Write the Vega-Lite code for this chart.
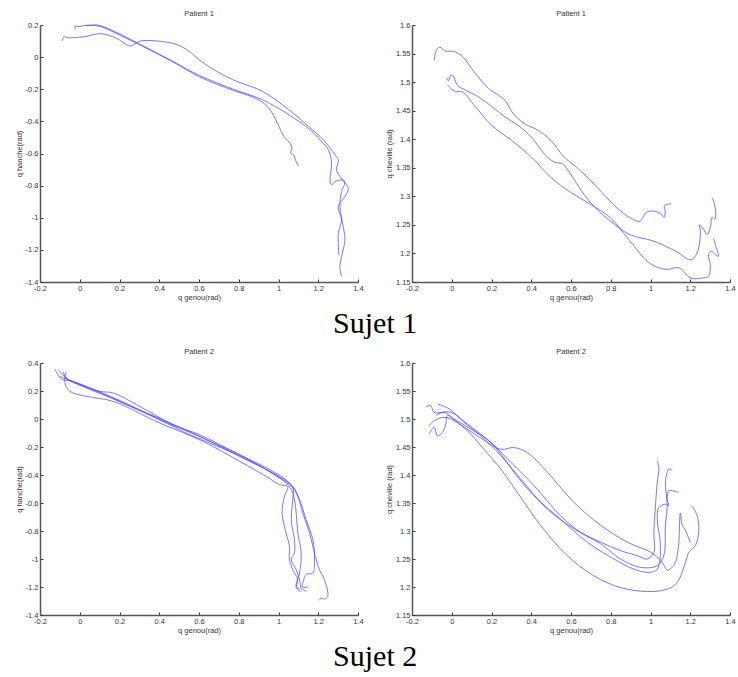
{
  "$schema": "https://vega.github.io/schema/vega-lite/v6.json",
  "padding": {"left": 15, "top": 9, "right": 0, "bottom": 0},
  "background": "white",
  "config": {
    "view": {"stroke": null},
    "font": "Liberation Sans",
    "axis": {
      "labelFont": "Liberation Sans", "labelFontSize": 7.5, "labelColor": "#333",
      "titleFont": "Liberation Sans", "titleFontSize": 7.5, "titleFontWeight": "normal", "titleColor": "#333",
      "domainColor": "#555", "domainWidth": 1.5, "tickColor": "#333", "tickSize": -3, "tickWidth": 1,
      "grid": false, "labelPadding": 5, "titlePadding": 2, "labelExpr": "datum.value + ''", "labelFlush": false
    },
    "title": {"fontSize": 7.5, "fontWeight": "normal", "color": "#333", "offset": 4, "font": "Liberation Sans"},
    "line": {"color": "#4a4aff", "strokeWidth": 0.75, "interpolate": "catmull-rom"}
  },
  "datasets": {
    "p1": [
      {"c":"a","i":0,"x":-0.020,"y":0.173},{"c":"a","i":1,"x":-0.025,"y":0.194},{"c":"a","i":2,"x":-0.008,"y":0.190},{"c":"a","i":3,"x":0.030,"y":0.198},{"c":"a","i":4,"x":0.105,"y":0.190},{"c":"a","i":5,"x":0.204,"y":0.135},{"c":"a","i":6,"x":0.321,"y":0.065},{"c":"a","i":7,"x":0.470,"y":-0.031},{"c":"a","i":8,"x":0.603,"y":-0.123},{"c":"a","i":9,"x":0.769,"y":-0.206},{"c":"a","i":10,"x":0.869,"y":-0.248},{"c":"a","i":11,"x":0.935,"y":-0.296},{"c":"a","i":12,"x":0.968,"y":-0.348},{"c":"a","i":13,"x":1.002,"y":-0.431},{"c":"a","i":14,"x":1.027,"y":-0.494},{"c":"a","i":15,"x":1.060,"y":-0.540},{"c":"a","i":16,"x":1.068,"y":-0.567},{"c":"a","i":17,"x":1.061,"y":-0.598},{"c":"a","i":18,"x":1.076,"y":-0.608},{"c":"a","i":19,"x":1.085,"y":-0.640},{"c":"a","i":20,"x":1.101,"y":-0.681},
      {"c":"b","i":0,"x":0.030,"y":0.194},{"c":"b","i":1,"x":0.088,"y":0.200},{"c":"b","i":2,"x":0.188,"y":0.152},{"c":"b","i":3,"x":0.304,"y":0.079},{"c":"b","i":4,"x":0.470,"y":-0.027},{"c":"b","i":5,"x":0.603,"y":-0.115},{"c":"b","i":6,"x":0.769,"y":-0.198},{"c":"b","i":7,"x":0.919,"y":-0.265},{"c":"b","i":8,"x":1.051,"y":-0.358},{"c":"b","i":9,"x":1.159,"y":-0.452},{"c":"b","i":10,"x":1.209,"y":-0.515},{"c":"b","i":11,"x":1.251,"y":-0.577},{"c":"b","i":12,"x":1.267,"y":-0.660},{"c":"b","i":13,"x":1.259,"y":-0.765},{"c":"b","i":14,"x":1.267,"y":-0.796},{"c":"b","i":15,"x":1.284,"y":-0.775},{"c":"b","i":16,"x":1.326,"y":-0.765},{"c":"b","i":17,"x":1.334,"y":-0.781},{"c":"b","i":18,"x":1.317,"y":-0.838},{"c":"b","i":19,"x":1.309,"y":-0.931},{"c":"b","i":20,"x":1.326,"y":-1.056},{"c":"b","i":21,"x":1.334,"y":-1.140},{"c":"b","i":22,"x":1.317,"y":-1.244},{"c":"b","i":23,"x":1.309,"y":-1.306},{"c":"b","i":24,"x":1.317,"y":-1.365},
      {"c":"c","i":0,"x":-0.090,"y":0.100},{"c":"c","i":1,"x":-0.078,"y":0.127},{"c":"c","i":2,"x":-0.061,"y":0.121},{"c":"c","i":3,"x":0.022,"y":0.127},{"c":"c","i":4,"x":0.105,"y":0.146},{"c":"c","i":5,"x":0.188,"y":0.115},{"c":"c","i":6,"x":0.254,"y":0.069},{"c":"c","i":7,"x":0.304,"y":0.100},{"c":"c","i":8,"x":0.470,"y":0.085},{"c":"c","i":9,"x":0.537,"y":0.048},{"c":"c","i":10,"x":0.620,"y":-0.035},{"c":"c","i":11,"x":0.769,"y":-0.140},{"c":"c","i":12,"x":0.919,"y":-0.213},{"c":"c","i":13,"x":1.051,"y":-0.327},{"c":"c","i":14,"x":1.151,"y":-0.431},{"c":"c","i":15,"x":1.226,"y":-0.515},{"c":"c","i":16,"x":1.284,"y":-0.608},{"c":"c","i":17,"x":1.301,"y":-0.640},{"c":"c","i":18,"x":1.292,"y":-0.702},{"c":"c","i":19,"x":1.309,"y":-0.744},{"c":"c","i":20,"x":1.351,"y":-0.817},{"c":"c","i":21,"x":1.334,"y":-0.869},{"c":"c","i":22,"x":1.301,"y":-0.931},{"c":"c","i":23,"x":1.317,"y":-1.015},{"c":"c","i":24,"x":1.301,"y":-1.098},{"c":"c","i":25,"x":1.304,"y":-1.233}
    ],
    "p2": [
      {"c":"a","i":0,"x":-0.088,"y":1.538},{"c":"a","i":1,"x":-0.076,"y":1.557},{"c":"a","i":2,"x":-0.060,"y":1.561},{"c":"a","i":3,"x":-0.030,"y":1.554},{"c":"a","i":4,"x":0.007,"y":1.554},{"c":"a","i":5,"x":0.053,"y":1.545},{"c":"a","i":6,"x":0.119,"y":1.515},{"c":"a","i":7,"x":0.185,"y":1.489},{"c":"a","i":8,"x":0.235,"y":1.477},{"c":"a","i":9,"x":0.268,"y":1.468},{"c":"a","i":10,"x":0.309,"y":1.445},{"c":"a","i":11,"x":0.367,"y":1.427},{"c":"a","i":12,"x":0.433,"y":1.416},{"c":"a","i":13,"x":0.499,"y":1.398},{"c":"a","i":14,"x":0.565,"y":1.369},{"c":"a","i":15,"x":0.648,"y":1.345},{"c":"a","i":16,"x":0.731,"y":1.316},{"c":"a","i":17,"x":0.830,"y":1.280},{"c":"a","i":18,"x":0.896,"y":1.263},{"c":"a","i":19,"x":0.945,"y":1.256},{"c":"a","i":20,"x":0.962,"y":1.263},{"c":"a","i":21,"x":0.979,"y":1.272},{"c":"a","i":22,"x":1.020,"y":1.274},{"c":"a","i":23,"x":1.053,"y":1.269},{"c":"a","i":24,"x":1.069,"y":1.263},{"c":"a","i":25,"x":1.074,"y":1.274},{"c":"a","i":26,"x":1.069,"y":1.283},{"c":"a","i":27,"x":1.086,"y":1.286},{"c":"a","i":28,"x":1.102,"y":1.287},
      {"c":"b","i":0,"x":-0.026,"y":1.508},{"c":"b","i":1,"x":-0.017,"y":1.502},{"c":"b","i":2,"x":-0.005,"y":1.512},{"c":"b","i":3,"x":0.007,"y":1.511},{"c":"b","i":4,"x":0.028,"y":1.495},{"c":"b","i":5,"x":0.069,"y":1.486},{"c":"b","i":6,"x":0.136,"y":1.474},{"c":"b","i":7,"x":0.202,"y":1.457},{"c":"b","i":8,"x":0.268,"y":1.439},{"c":"b","i":9,"x":0.334,"y":1.424},{"c":"b","i":10,"x":0.400,"y":1.404},{"c":"b","i":11,"x":0.466,"y":1.374},{"c":"b","i":12,"x":0.516,"y":1.360},{"c":"b","i":13,"x":0.557,"y":1.357},{"c":"b","i":14,"x":0.598,"y":1.339},{"c":"b","i":15,"x":0.664,"y":1.304},{"c":"b","i":16,"x":0.731,"y":1.277},{"c":"b","i":17,"x":0.797,"y":1.257},{"c":"b","i":18,"x":0.896,"y":1.233},{"c":"b","i":19,"x":1.012,"y":1.222},{"c":"b","i":20,"x":1.127,"y":1.204},{"c":"b","i":21,"x":1.202,"y":1.189},{"c":"b","i":22,"x":1.235,"y":1.201},{"c":"b","i":23,"x":1.251,"y":1.239},{"c":"b","i":24,"x":1.246,"y":1.250},{"c":"b","i":25,"x":1.268,"y":1.242},{"c":"b","i":26,"x":1.285,"y":1.233},{"c":"b","i":27,"x":1.301,"y":1.245},{"c":"b","i":28,"x":1.309,"y":1.263},{"c":"b","i":29,"x":1.322,"y":1.260},{"c":"b","i":30,"x":1.329,"y":1.269},{"c":"b","i":31,"x":1.317,"y":1.292},{"c":"b","i":32,"x":1.309,"y":1.298},
      {"c":"c","i":0,"x":-0.021,"y":1.495},{"c":"c","i":1,"x":-0.005,"y":1.489},{"c":"c","i":2,"x":0.020,"y":1.483},{"c":"c","i":3,"x":0.053,"y":1.483},{"c":"c","i":4,"x":0.119,"y":1.457},{"c":"c","i":5,"x":0.202,"y":1.424},{"c":"c","i":6,"x":0.301,"y":1.398},{"c":"c","i":7,"x":0.400,"y":1.369},{"c":"c","i":8,"x":0.499,"y":1.333},{"c":"c","i":9,"x":0.598,"y":1.307},{"c":"c","i":10,"x":0.698,"y":1.286},{"c":"c","i":11,"x":0.797,"y":1.263},{"c":"c","i":12,"x":0.896,"y":1.222},{"c":"c","i":13,"x":0.995,"y":1.183},{"c":"c","i":14,"x":1.078,"y":1.172},{"c":"c","i":15,"x":1.144,"y":1.175},{"c":"c","i":16,"x":1.202,"y":1.157},{"c":"c","i":17,"x":1.260,"y":1.157},{"c":"c","i":18,"x":1.292,"y":1.160},{"c":"c","i":19,"x":1.301,"y":1.180},{"c":"c","i":20,"x":1.292,"y":1.198},{"c":"c","i":21,"x":1.309,"y":1.204},{"c":"c","i":22,"x":1.326,"y":1.198},{"c":"c","i":23,"x":1.342,"y":1.195},{"c":"c","i":24,"x":1.326,"y":1.216},{"c":"c","i":25,"x":1.317,"y":1.227}
    ],
    "p3": [
      {"c":"a","i":0,"x":-0.067,"y":0.340},{"c":"a","i":1,"x":-0.075,"y":0.257},{"c":"a","i":2,"x":-0.050,"y":0.198},{"c":"a","i":3,"x":0.034,"y":0.162},{"c":"a","i":4,"x":0.168,"y":0.126},{"c":"a","i":5,"x":0.402,"y":-0.029},{"c":"a","i":6,"x":0.603,"y":-0.148},{"c":"a","i":7,"x":0.804,"y":-0.302},{"c":"a","i":8,"x":0.938,"y":-0.410},{"c":"a","i":9,"x":1.005,"y":-0.469},{"c":"a","i":10,"x":1.047,"y":-0.481},{"c":"a","i":11,"x":1.030,"y":-0.552},{"c":"a","i":12,"x":1.018,"y":-0.671},{"c":"a","i":13,"x":1.038,"y":-0.814},{"c":"a","i":14,"x":1.055,"y":-0.910},{"c":"a","i":15,"x":1.055,"y":-1.005},{"c":"a","i":16,"x":1.072,"y":-1.076},{"c":"a","i":17,"x":1.097,"y":-1.148},{"c":"a","i":18,"x":1.089,"y":-1.207},{"c":"a","i":19,"x":1.114,"y":-1.231},
      {"c":"b","i":0,"x":-0.126,"y":0.357},{"c":"b","i":1,"x":-0.092,"y":0.286},{"c":"b","i":2,"x":-0.034,"y":0.269},{"c":"b","i":3,"x":0.101,"y":0.198},{"c":"b","i":4,"x":0.168,"y":0.186},{"c":"b","i":5,"x":0.302,"y":0.090},{"c":"b","i":6,"x":0.469,"y":-0.040},{"c":"b","i":7,"x":0.603,"y":-0.112},{"c":"b","i":8,"x":0.804,"y":-0.255},{"c":"b","i":9,"x":0.972,"y":-0.374},{"c":"b","i":10,"x":1.055,"y":-0.457},{"c":"b","i":11,"x":1.097,"y":-0.552},{"c":"b","i":12,"x":1.122,"y":-0.671},{"c":"b","i":13,"x":1.156,"y":-0.814},{"c":"b","i":14,"x":1.181,"y":-0.957},{"c":"b","i":15,"x":1.206,"y":-1.076},{"c":"b","i":16,"x":1.231,"y":-1.148},{"c":"b","i":17,"x":1.248,"y":-1.267},{"c":"b","i":18,"x":1.231,"y":-1.286},{"c":"b","i":19,"x":1.214,"y":-1.279},{"c":"b","i":20,"x":1.206,"y":-1.295},
      {"c":"c","i":0,"x":-0.101,"y":0.305},{"c":"c","i":1,"x":-0.059,"y":0.281},{"c":"c","i":2,"x":0.067,"y":0.210},{"c":"c","i":3,"x":0.235,"y":0.102},{"c":"c","i":4,"x":0.436,"y":-0.017},{"c":"c","i":5,"x":0.637,"y":-0.148},{"c":"c","i":6,"x":0.838,"y":-0.279},{"c":"c","i":7,"x":1.005,"y":-0.421},{"c":"c","i":8,"x":1.072,"y":-0.493},{"c":"c","i":9,"x":1.072,"y":-0.576},{"c":"c","i":10,"x":1.064,"y":-0.719},{"c":"c","i":11,"x":1.080,"y":-0.862},{"c":"c","i":12,"x":1.080,"y":-0.957},{"c":"c","i":13,"x":1.064,"y":-1.005},{"c":"c","i":14,"x":1.089,"y":-1.076},{"c":"c","i":15,"x":1.106,"y":-1.148},{"c":"c","i":16,"x":1.114,"y":-1.207},{"c":"c","i":17,"x":1.139,"y":-1.231},
      {"c":"d","i":0,"x":-0.084,"y":0.340},{"c":"d","i":1,"x":-0.067,"y":0.293},{"c":"d","i":2,"x":0.034,"y":0.221},{"c":"d","i":3,"x":0.201,"y":0.126},{"c":"d","i":4,"x":0.402,"y":-0.005},{"c":"d","i":5,"x":0.603,"y":-0.124},{"c":"d","i":6,"x":0.804,"y":-0.267},{"c":"d","i":7,"x":0.988,"y":-0.398},{"c":"d","i":8,"x":1.072,"y":-0.481},{"c":"d","i":9,"x":1.106,"y":-0.576},{"c":"d","i":10,"x":1.139,"y":-0.719},{"c":"d","i":11,"x":1.173,"y":-0.862},{"c":"d","i":12,"x":1.181,"y":-1.005},{"c":"d","i":13,"x":1.173,"y":-1.100},{"c":"d","i":14,"x":1.139,"y":-1.110},{"c":"d","i":15,"x":1.125,"y":-1.160},{"c":"d","i":16,"x":1.120,"y":-1.200},{"c":"d","i":17,"x":1.150,"y":-1.200},
      {"c":"e","i":0,"x":-0.109,"y":0.352},{"c":"e","i":1,"x":-0.075,"y":0.300},{"c":"e","i":2,"x":-0.042,"y":0.269},{"c":"e","i":3,"x":0.134,"y":0.174},{"c":"e","i":4,"x":0.335,"y":0.043},{"c":"e","i":5,"x":0.536,"y":-0.100},{"c":"e","i":6,"x":0.771,"y":-0.243},{"c":"e","i":7,"x":0.938,"y":-0.362},{"c":"e","i":8,"x":1.039,"y":-0.457},{"c":"e","i":9,"x":1.072,"y":-0.529},{"c":"e","i":10,"x":1.089,"y":-0.671},{"c":"e","i":11,"x":1.097,"y":-0.814},{"c":"e","i":12,"x":1.114,"y":-0.957},{"c":"e","i":13,"x":1.106,"y":-1.100},{"c":"e","i":14,"x":1.089,"y":-1.195},{"c":"e","i":15,"x":1.106,"y":-1.214}
    ],
    "p4": [
      {"c":"a","i":0,"x":-0.114,"y":1.488},{"c":"a","i":1,"x":-0.089,"y":1.497},{"c":"a","i":2,"x":-0.039,"y":1.503},{"c":"a","i":3,"x":0.012,"y":1.497},{"c":"a","i":4,"x":0.079,"y":1.479},{"c":"a","i":5,"x":0.162,"y":1.446},{"c":"a","i":6,"x":0.246,"y":1.411},{"c":"a","i":7,"x":0.330,"y":1.369},{"c":"a","i":8,"x":0.447,"y":1.310},{"c":"a","i":9,"x":0.581,"y":1.256},{"c":"a","i":10,"x":0.715,"y":1.220},{"c":"a","i":11,"x":0.849,"y":1.199},{"c":"a","i":12,"x":0.983,"y":1.192},{"c":"a","i":13,"x":1.084,"y":1.196},{"c":"a","i":14,"x":1.134,"y":1.208},{"c":"a","i":15,"x":1.176,"y":1.244},{"c":"a","i":16,"x":1.193,"y":1.262},{"c":"a","i":17,"x":1.226,"y":1.274},{"c":"a","i":18,"x":1.243,"y":1.301},{"c":"a","i":19,"x":1.235,"y":1.327},{"c":"a","i":20,"x":1.209,"y":1.345},
      {"c":"b","i":0,"x":-0.080,"y":1.506},{"c":"b","i":1,"x":-0.039,"y":1.512},{"c":"b","i":2,"x":0.028,"y":1.494},{"c":"b","i":3,"x":0.129,"y":1.470},{"c":"b","i":4,"x":0.246,"y":1.446},{"c":"b","i":5,"x":0.313,"y":1.449},{"c":"b","i":6,"x":0.380,"y":1.440},{"c":"b","i":7,"x":0.481,"y":1.405},{"c":"b","i":8,"x":0.615,"y":1.351},{"c":"b","i":9,"x":0.750,"y":1.310},{"c":"b","i":10,"x":0.884,"y":1.280},{"c":"b","i":11,"x":1.001,"y":1.262},{"c":"b","i":12,"x":1.052,"y":1.247},{"c":"b","i":13,"x":1.069,"y":1.238},{"c":"b","i":14,"x":1.085,"y":1.230},{"c":"b","i":15,"x":1.120,"y":1.240},{"c":"b","i":16,"x":1.140,"y":1.270},{"c":"b","i":17,"x":1.150,"y":1.332},{"c":"b","i":18,"x":1.160,"y":1.310},{"c":"b","i":19,"x":1.175,"y":1.302},{"c":"b","i":20,"x":1.200,"y":1.279},
      {"c":"c","i":0,"x":-0.131,"y":1.521},{"c":"c","i":1,"x":-0.106,"y":1.524},{"c":"c","i":2,"x":-0.089,"y":1.512},{"c":"c","i":3,"x":-0.005,"y":1.512},{"c":"c","i":4,"x":0.079,"y":1.491},{"c":"c","i":5,"x":0.213,"y":1.452},{"c":"c","i":6,"x":0.313,"y":1.405},{"c":"c","i":7,"x":0.414,"y":1.363},{"c":"c","i":8,"x":0.548,"y":1.321},{"c":"c","i":9,"x":0.682,"y":1.280},{"c":"c","i":10,"x":0.816,"y":1.250},{"c":"c","i":11,"x":0.916,"y":1.232},{"c":"c","i":12,"x":0.992,"y":1.226},{"c":"c","i":13,"x":1.034,"y":1.232},{"c":"c","i":14,"x":1.050,"y":1.274},{"c":"c","i":15,"x":1.034,"y":1.321},{"c":"c","i":16,"x":1.042,"y":1.342},{"c":"c","i":17,"x":1.075,"y":1.348},{"c":"c","i":18,"x":1.092,"y":1.345},{"c":"c","i":19,"x":1.084,"y":1.357},{"c":"c","i":20,"x":1.092,"y":1.372},{"c":"c","i":21,"x":1.109,"y":1.372},{"c":"c","i":22,"x":1.142,"y":1.369},
      {"c":"d","i":0,"x":-0.072,"y":1.527},{"c":"d","i":1,"x":-0.013,"y":1.518},{"c":"d","i":2,"x":0.062,"y":1.494},{"c":"d","i":3,"x":0.146,"y":1.470},{"c":"d","i":4,"x":0.246,"y":1.435},{"c":"d","i":5,"x":0.347,"y":1.393},{"c":"d","i":6,"x":0.481,"y":1.339},{"c":"d","i":7,"x":0.615,"y":1.304},{"c":"d","i":8,"x":0.750,"y":1.277},{"c":"d","i":9,"x":0.849,"y":1.250},{"c":"d","i":10,"x":0.950,"y":1.235},{"c":"d","i":11,"x":1.034,"y":1.238},{"c":"d","i":12,"x":1.067,"y":1.256},{"c":"d","i":13,"x":1.075,"y":1.310},{"c":"d","i":14,"x":1.084,"y":1.345},{"c":"d","i":15,"x":1.075,"y":1.387},{"c":"d","i":16,"x":1.084,"y":1.405},{"c":"d","i":17,"x":1.092,"y":1.411},{"c":"d","i":18,"x":1.109,"y":1.408},
      {"c":"e","i":0,"x":-0.114,"y":1.473},{"c":"e","i":1,"x":-0.089,"y":1.485},{"c":"e","i":2,"x":-0.072,"y":1.470},{"c":"e","i":3,"x":-0.047,"y":1.476},{"c":"e","i":4,"x":-0.030,"y":1.491},{"c":"e","i":5,"x":-0.022,"y":1.506},{"c":"e","i":6,"x":0.012,"y":1.500},{"c":"e","i":7,"x":0.095,"y":1.482},{"c":"e","i":8,"x":0.179,"y":1.464},{"c":"e","i":9,"x":0.280,"y":1.429},{"c":"e","i":10,"x":0.414,"y":1.381},{"c":"e","i":11,"x":0.548,"y":1.327},{"c":"e","i":12,"x":0.648,"y":1.298},{"c":"e","i":13,"x":0.749,"y":1.280},{"c":"e","i":14,"x":0.849,"y":1.265},{"c":"e","i":15,"x":0.933,"y":1.256},{"c":"e","i":16,"x":0.983,"y":1.250},{"c":"e","i":17,"x":1.017,"y":1.262},{"c":"e","i":18,"x":1.017,"y":1.298},{"c":"e","i":19,"x":1.025,"y":1.345},{"c":"e","i":20,"x":1.034,"y":1.387},{"c":"e","i":21,"x":1.042,"y":1.411},{"c":"e","i":22,"x":1.034,"y":1.426}
    ]
  },
  "vconcat": [
    {
      "title": {"text": "Sujet 1", "orient": "bottom", "anchor": "middle", "font": "Liberation Serif", "fontSize": 30, "color": "#000", "offset": 8},
      "spacing": 21,
      "hconcat": [
        {
          "width": 318, "height": 257,
          "title": "Patient 1",
          "data": {"name": "p1"},
          "mark": {"type": "line"},
          "encoding": {
            "x": {"field": "x", "type": "quantitative", "scale": {"domain": [-0.2, 1.4], "nice": false, "zero": false}, "axis": {"title": "q genou(rad)", "values": [-0.2, 0, 0.2, 0.4, 0.6, 0.8, 1, 1.2, 1.4]}},
            "y": {"field": "y", "type": "quantitative", "scale": {"domain": [-1.4, 0.2], "nice": false, "zero": false}, "axis": {"title": "q hanche(rad)", "values": [-1.4, -1.2, -1, -0.8, -0.6, -0.4, -0.2, 0, 0.2]}},
            "detail": {"field": "c"},
            "order": {"field": "i", "type": "quantitative"}
          }
        },
        {
          "width": 318, "height": 257,
          "title": "Patient 1",
          "data": {"name": "p2"},
          "mark": {"type": "line"},
          "encoding": {
            "x": {"field": "x", "type": "quantitative", "scale": {"domain": [-0.2, 1.4], "nice": false, "zero": false}, "axis": {"title": "q genou(rad)", "values": [-0.2, 0, 0.2, 0.4, 0.6, 0.8, 1, 1.2, 1.4]}},
            "y": {"field": "y", "type": "quantitative", "scale": {"domain": [1.15, 1.6], "nice": false, "zero": false}, "axis": {"title": "q cheville (rad)", "values": [1.15, 1.2, 1.25, 1.3, 1.35, 1.4, 1.45, 1.5, 1.55, 1.6]}},
            "detail": {"field": "c"},
            "order": {"field": "i", "type": "quantitative"}
          }
        }
      ]
    },
    {
      "title": {"text": "Sujet 2", "orient": "bottom", "anchor": "middle", "font": "Liberation Serif", "fontSize": 30, "color": "#000", "offset": 8},
      "spacing": 21,
      "hconcat": [
        {
          "width": 318, "height": 252,
          "title": "Patient 2",
          "data": {"name": "p3"},
          "mark": {"type": "line"},
          "encoding": {
            "x": {"field": "x", "type": "quantitative", "scale": {"domain": [-0.2, 1.4], "nice": false, "zero": false}, "axis": {"title": "q genou(rad)", "values": [-0.2, 0, 0.2, 0.4, 0.6, 0.8, 1, 1.2, 1.4]}},
            "y": {"field": "y", "type": "quantitative", "scale": {"domain": [-1.4, 0.4], "nice": false, "zero": false}, "axis": {"title": "q hanche(rad)", "values": [-1.4, -1.2, -1, -0.8, -0.6, -0.4, -0.2, 0, 0.2, 0.4]}},
            "detail": {"field": "c"},
            "order": {"field": "i", "type": "quantitative"}
          }
        },
        {
          "width": 318, "height": 252,
          "title": "Patient 2",
          "data": {"name": "p4"},
          "mark": {"type": "line"},
          "encoding": {
            "x": {"field": "x", "type": "quantitative", "scale": {"domain": [-0.2, 1.4], "nice": false, "zero": false}, "axis": {"title": "q genou(rad)", "values": [-0.2, 0, 0.2, 0.4, 0.6, 0.8, 1, 1.2, 1.4]}},
            "y": {"field": "y", "type": "quantitative", "scale": {"domain": [1.15, 1.6], "nice": false, "zero": false}, "axis": {"title": "q cheville (rad)", "values": [1.15, 1.2, 1.25, 1.3, 1.35, 1.4, 1.45, 1.5, 1.55, 1.6]}},
            "detail": {"field": "c"},
            "order": {"field": "i", "type": "quantitative"}
          }
        }
      ]
    }
  ],
  "spacing": 8
}
